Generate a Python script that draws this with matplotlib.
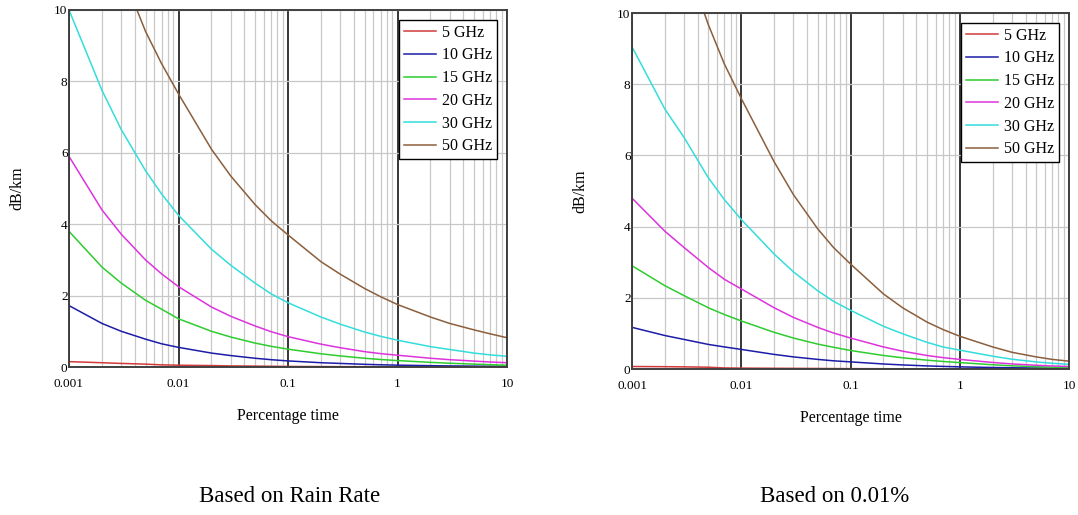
import numpy as np
import matplotlib.pyplot as plt
from matplotlib.ticker import FixedLocator, NullFormatter

plt.rcParams['font.family'] = ['Liberation Serif', 'DejaVu Serif']

# percentage of time (x axis, log scale)
pct = [0.001, 0.002, 0.003, 0.005, 0.007,
       0.01, 0.02, 0.03, 0.05, 0.07,
       0.1, 0.2, 0.3, 0.5, 0.7,
       1, 2, 3, 5, 7, 10]

freq_labels = ['5 GHz', '10 GHz', '15 GHz', '20 GHz', '30 GHz', '50 GHz']
colors = ['#d03a3a', '#1c1ca8', '#2ecc2e', '#dd33dd', '#33dddd', '#8b5e3c']

# specific attenuation (dB/km), panel 1: based on rain rate
rr_5 = [0.15, 0.12, 0.10, 0.08, 0.06, 0.05, 0.04, 0.03, 0.025, 0.02,
        0.015, 0.012, 0.01, 0.008, 0.006, 0.005, 0.004, 0.003, 0.002, 0.002, 0.001]
rr_10 = [1.72, 1.22, 1.0, 0.78, 0.65, 0.55, 0.39, 0.32, 0.245, 0.205,
         0.17, 0.12, 0.10, 0.075, 0.062, 0.052, 0.037, 0.03, 0.024, 0.021, 0.018]
rr_15 = [3.8, 2.8, 2.35, 1.87, 1.62, 1.35, 1.0, 0.84, 0.67, 0.58,
         0.50, 0.37, 0.31, 0.245, 0.21, 0.18, 0.13, 0.105, 0.08, 0.065, 0.05]
rr_20 = [5.9, 4.4, 3.72, 3.0, 2.61, 2.25, 1.68, 1.42, 1.15, 0.99,
         0.85, 0.64, 0.54, 0.43, 0.375, 0.33, 0.245, 0.205, 0.165, 0.14, 0.12]
rr_30 = [10.0, 7.75, 6.65, 5.5, 4.85, 4.25, 3.3, 2.85, 2.35, 2.05,
         1.8, 1.4, 1.2, 0.98, 0.86, 0.75, 0.57, 0.49, 0.39, 0.34, 0.30]
rr_50 = [15.8, 12.6, 11.1, 9.4, 8.5, 7.65, 6.1, 5.35, 4.55, 4.1,
         3.7, 2.95, 2.6, 2.2, 1.97, 1.75, 1.4, 1.22, 1.04, 0.93, 0.82]

# panel 2: based on 0.01% value
p1_5 = [0.07, 0.065, 0.06, 0.05, 0.03, 0.025, 0.02, 0.018, 0.015, 0.012,
        0.01, 0.008, 0.006, 0.005, 0.004, 0.003, 0.002, 0.002, 0.001, 0.001, 0.001]
p1_10 = [1.17, 0.94, 0.83, 0.69, 0.62, 0.55, 0.41, 0.34, 0.27, 0.23,
         0.20, 0.141, 0.114, 0.087, 0.073, 0.06, 0.042, 0.035, 0.027, 0.023, 0.02]
p1_15 = [2.9, 2.34, 2.06, 1.72, 1.53, 1.35, 1.03, 0.87, 0.70, 0.61,
         0.52, 0.38, 0.315, 0.248, 0.212, 0.18, 0.119, 0.09, 0.065, 0.05, 0.04]
p1_20 = [4.8, 3.87, 3.41, 2.85, 2.52, 2.25, 1.72, 1.45, 1.17, 1.01,
         0.87, 0.62, 0.50, 0.38, 0.32, 0.27, 0.183, 0.143, 0.105, 0.085, 0.07]
p1_30 = [9.05, 7.3, 6.5, 5.37, 4.76, 4.2, 3.23, 2.73, 2.2, 1.9,
         1.65, 1.2, 0.99, 0.75, 0.62, 0.53, 0.36, 0.275, 0.199, 0.16, 0.13]
p1_50 = [16.3, 13.1, 11.6, 9.67, 8.57, 7.6, 5.82, 4.9, 3.94, 3.41,
         2.95, 2.11, 1.72, 1.32, 1.11, 0.92, 0.62, 0.47, 0.34, 0.27, 0.22]

panels = [
    ([rr_5, rr_10, rr_15, rr_20, rr_30, rr_50], 'Based on Rain Rate',
     [69 / 1078, 1 - 367 / 515, 438 / 1078, 357 / 515], 290),
    ([p1_5, p1_10, p1_15, p1_20, p1_30, p1_50], 'Based on 0.01%',
     [632 / 1078, 1 - 369 / 515, 437 / 1078, 356 / 515], 835),
]

fig = plt.figure(figsize=(10.78, 5.15), dpi=100)

for series, caption, rect, cap_x in panels:
    ax = fig.add_axes(rect)
    for vals, lab, col in zip(series, freq_labels, colors):
        ax.plot(pct, vals, color=col, lw=1.1, label=lab)

    ax.set_xscale('log')
    ax.set_xlim(0.001, 10)
    ax.set_ylim(0, 10)

    # grid: grey minor decades, black major decades, grey horizontals
    ax.xaxis.set_major_locator(FixedLocator([0.001, 0.01, 0.1, 1, 10]))
    ax.xaxis.set_minor_locator(FixedLocator(
        [m * 10.0 ** e for e in range(-3, 1) for m in range(2, 10)]))
    ax.xaxis.set_minor_formatter(NullFormatter())
    ax.set_xticklabels(['0.001', '0.01', '0.1', '1', '10'])
    ax.set_yticks([0, 2, 4, 6, 8, 10])
    ax.set_yticklabels(['0', '2', '4', '6', '8', '10'])
    ax.grid(which='minor', axis='x', color='#c8c8c8', lw=0.9)
    ax.grid(which='major', axis='x', color='black', lw=1.1)
    ax.grid(which='major', axis='y', color='#c8c8c8', lw=0.9)
    ax.set_axisbelow(True)
    ax.tick_params(which='both', length=0, labelsize=9.5)
    ax.tick_params(axis='x', pad=8)
    ax.tick_params(axis='y', pad=1)
    for sp in ax.spines.values():
        sp.set_color('#404040')
        sp.set_linewidth(1.4)

    ax.set_xlabel('Percentage time', fontsize=11.5)
    ax.xaxis.set_label_coords(0.5, -0.115)
    ax.set_ylabel('dB/km', fontsize=11.5)
    ax.yaxis.set_label_coords(-0.10, 0.5)

    leg = ax.legend(loc='upper right', bbox_to_anchor=(0.978, 0.972),
                    borderaxespad=0, fontsize=11.5, fancybox=False,
                    framealpha=1, edgecolor='black', handlelength=2.0,
                    labelspacing=0.42, borderpad=0.3, handletextpad=0.4)
    leg.get_frame().set_linewidth(1.0)

    fig.text(cap_x / 1078, 1 - 497 / 515, caption, fontsize=16.5,
             ha='center', va='center')

fig.savefig('out.png', dpi=100)
